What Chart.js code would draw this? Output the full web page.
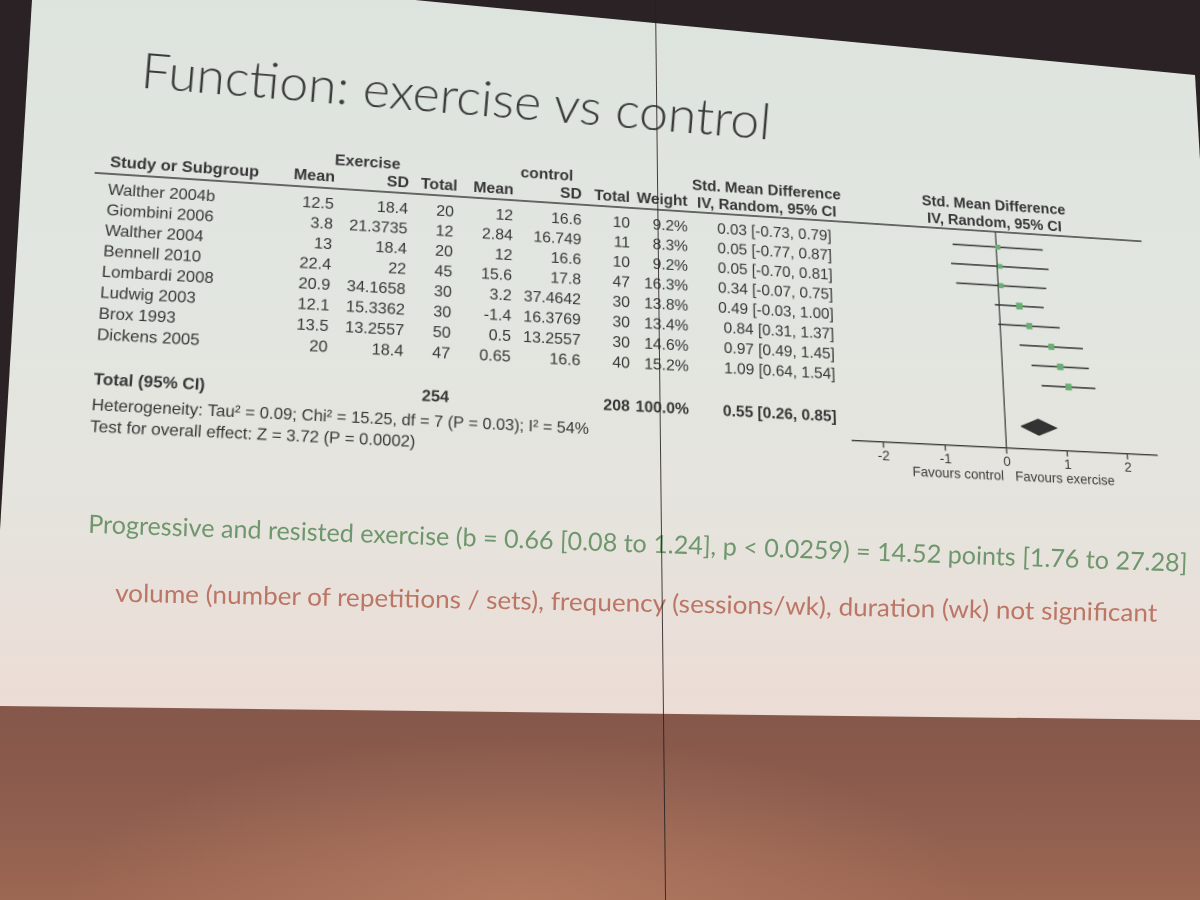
<!DOCTYPE html>
<html>
<head>
<meta charset="utf-8">
<script src="https://cdn.jsdelivr.net/npm/chart.js@4.4.1/dist/chart.umd.min.js"></script>
<style>
  html, body { margin: 0; padding: 0; }
  body {
    width: 1200px; height: 900px; overflow: hidden; position: relative;
    background:
      radial-gradient(ellipse 460px 170px at 520px 905px, rgba(196,136,108,0.55), rgba(196,136,108,0)),
      linear-gradient(180deg, #2a2224 0px, #2a2224 698px, #84574a 700px, #8c5c4d 790px, #9c6753 900px);
  }
  #slide {
    position: absolute; left: 0; top: 0; width: 1200px; height: 900px;
    clip-path: polygon(32px 0, 415px 0, 1195px 75px, 1200px 160px, 1200px 720px, 0 706px, 0 530px);
    background: linear-gradient(180deg, #dde3dd 0px, #e2e6e0 300px, #e6e3dd 520px, #ecdcd5 720px);
  }
  #figure { position: absolute; left: 0; top: 0; width: 1200px; height: 520px; transform-origin: 0 0; }
  #figure canvas { width: 1200px; height: 520px; }
  .line { position: absolute; white-space: nowrap; line-height: 1; transform-origin: 0 0; font-family: Lato, "Open Sans", sans-serif; }
  #title { font-weight: 300; color: #3b3b3b; }
  #note1 { font-weight: 400; color: #6f976d; }
  #note2 { font-weight: 400; color: #bb7666; }
  #seam { position: absolute; left: 655px; top: 0; width: 1.3px; height: 910px; background: rgba(38,32,32,0.85); transform-origin: 0 0; transform: rotate(-0.64deg); }
</style>
</head>
<body>
<div id="slide"></div>
<div id="figure"><canvas id="forest" width="1200" height="520"></canvas></div>
<div id="title" class="line">Function: exercise vs control</div>
<div id="note1" class="line">Progressive and resisted exercise (b = 0.66 [0.08 to 1.24], p &lt; 0.0259) = 14.52 points [1.76 to 27.28]</div>
<div id="note2" class="line">volume (number of repetitions / sets), frequency (sessions/wk), duration (wk) not significant</div>
<div id="seam"></div>
<script>
// study data
const studies = ['Walther 2004b', 'Giombini 2006', 'Walther 2004', 'Bennell 2010', 'Lombardi 2008', 'Ludwig 2003', 'Brox 1993', 'Dickens 2005'];
const exMean = [12.5, 3.8, 13, 22.4, 20.9, 12.1, 13.5, 20];
const exSD = [18.4, 21.3735, 18.4, 22, 34.1658, 15.3362, 13.2557, 18.4];
const exTotal = [20, 12, 20, 45, 30, 30, 50, 47];
const ctMean = [12, 2.84, 12, 15.6, 3.2, -1.4, 0.5, 0.65];
const ctSD = [16.6, 16.749, 16.6, 17.8, 37.4642, 16.3769, 13.2557, 16.6];
const ctTotal = [10, 11, 10, 47, 30, 30, 30, 40];
const weight = [9.2, 8.3, 9.2, 16.3, 13.8, 13.4, 14.6, 15.2];
const smd = [0.03, 0.05, 0.05, 0.34, 0.49, 0.84, 0.97, 1.09];
const ciLow = [-0.73, -0.77, -0.70, -0.07, -0.03, 0.31, 0.49, 0.64];
const ciHigh = [0.79, 0.87, 0.81, 0.75, 1.00, 1.37, 1.45, 1.54];
const pooled = [0.55, 0.26, 0.85];
const tickValues = [-2, -1, 0, 1, 2];
const heterogeneityText = 'Heterogeneity: Tau\u00B2 = 0.09; Chi\u00B2 = 15.25, df = 7 (P = 0.03); I\u00B2 = 54%';
const overallText = 'Test for overall effect: Z = 3.72 (P = 0.0002)';

// row positions in y-scale units (0 = header rule)
const ROW0 = 0.8;
const rowOf = i => ROW0 + i;
const TOTAL_ROW = rowOf(studies.length - 1) + 2.1;
const AXIS_ROW = TOTAL_ROW + 1.1;

// column anchors on the flat figure
const COL = { name: 100, exMean: 320, exSD: 394, exTotal: 440, ctMean: 500, ctSD: 570, ctTotal: 620, weight: 680, ci: 832, ciMid: 764 };

const sum = arr => arr.reduce((a, b) => a + b, 0);
const fmtCI = (m, lo, hi) => `${m.toFixed(2)} [${lo.toFixed(2)}, ${hi.toFixed(2)}]`;

const tablePlugin = {
    id: 'forestTable',
    afterDraw(chart) {
        const { ctx, chartArea, scales: { x, y } } = chart;
        const yy = v => y.getPixelForValue(v);
        const normal = '16px "Liberation Sans", Arial, sans-serif';
        const bold = 'bold 16px "Liberation Sans", Arial, sans-serif';
        const put = (text, px, v, align, font) => {
            ctx.font = font || normal;
            ctx.textAlign = align;
            ctx.fillText(text, px, yy(v));
        };
        ctx.save();
        ctx.fillStyle = '#363636';
        ctx.textBaseline = 'middle';

        // header rule across the whole figure
        ctx.strokeStyle = '#3a3a3a';
        ctx.lineWidth = 1.4;
        ctx.beginPath();
        ctx.moveTo(COL.name - 14, yy(0));
        ctx.lineTo(chartArea.right, yy(0));
        ctx.stroke();

        // headers
        put('Exercise', 352, -1.4, 'center', bold);
        put('control', 534, -1.4, 'center', bold);
        put('Std. Mean Difference', COL.ciMid, -1.35, 'center', bold);
        put('Study or Subgroup', COL.name, -0.55, 'left', bold);
        put('Mean', COL.exMean, -0.55, 'right', bold);
        put('SD', COL.exSD, -0.5, 'right', bold);
        put('Total', COL.exTotal + 3, -0.5, 'right', bold);
        put('Mean', COL.ctMean, -0.5, 'right', bold);
        put('SD', COL.ctSD, -0.5, 'right', bold);
        put('Total', COL.ctTotal, -0.5, 'right', bold);
        put('Weight', COL.weight, -0.5, 'right', bold);
        put('IV, Random, 95% CI', COL.ciMid, -0.45, 'center', bold);
        const midX = (chartArea.left + chartArea.right) / 2;
        put('Std. Mean Difference', midX, -1.35, 'center', bold);
        put('IV, Random, 95% CI', midX, -0.45, 'center', bold);

        // study rows
        studies.forEach((s, i) => {
            const r = rowOf(i);
            put(s, COL.name, r, 'left');
            put(String(exMean[i]), COL.exMean, r, 'right');
            put(String(exSD[i]), COL.exSD, r, 'right');
            put(String(exTotal[i]), COL.exTotal, r, 'right');
            put(String(ctMean[i]), COL.ctMean, r, 'right');
            put(String(ctSD[i]), COL.ctSD, r, 'right');
            put(String(ctTotal[i]), COL.ctTotal, r, 'right');
            put(weight[i].toFixed(1) + '%', COL.weight, r, 'right');
            put(fmtCI(smd[i], ciLow[i], ciHigh[i]), COL.ci, r, 'right');
        });

        // total row and footnotes
        put('Total (95% CI)', COL.name, TOTAL_ROW, 'left', bold);
        put(String(sum(exTotal)), COL.exTotal, TOTAL_ROW, 'right', bold);
        put(String(sum(ctTotal)), COL.ctTotal, TOTAL_ROW, 'right', bold);
        put(sum(weight).toFixed(1) + '%', COL.weight, TOTAL_ROW, 'right', bold);
        put(fmtCI(pooled[0], pooled[1], pooled[2]), COL.ci, TOTAL_ROW, 'right', bold);
        put(heterogeneityText, COL.name, TOTAL_ROW + 1.2, 'left');
        put(overallText, COL.name, TOTAL_ROW + 2.2, 'left');

        // favours labels under the axis
        const x0 = x.getPixelForValue(0);
        const fy = yy(AXIS_ROW) + 29;
        ctx.font = '14px "Liberation Sans", Arial, sans-serif';
        ctx.fillStyle = '#3c3c3c';
        ctx.textAlign = 'right';
        ctx.fillText('Favours control', x0 - 4, fy);
        ctx.textAlign = 'left';
        ctx.fillText('Favours exercise', x0 + 8, fy);
        ctx.restore();
    }
};

const ciSets = studies.map((s, i) => ({
    type: 'line',
    label: s,
    data: [{ x: ciLow[i], y: rowOf(i) }, { x: ciHigh[i], y: rowOf(i) }],
    borderColor: '#3c3c3c',
    borderWidth: 1.6,
    pointRadius: 0,
    fill: false,
    order: 2
}));

const squareSet = {
    type: 'scatter',
    label: 'SMD',
    data: smd.map((v, i) => ({ x: v, y: rowOf(i) })),
    pointStyle: 'rect',
    pointRadius: weight.map(w => 1.25 * Math.sqrt(w)),
    backgroundColor: '#6aae74',
    borderWidth: 0,
    order: 0
};

const diamondSet = {
    type: 'line',
    label: 'Total',
    data: [
        { x: pooled[1], y: TOTAL_ROW },
        { x: pooled[0], y: TOTAL_ROW - 0.4 },
        { x: pooled[2], y: TOTAL_ROW },
        { x: pooled[0], y: TOTAL_ROW + 0.4 },
        { x: pooled[1], y: TOTAL_ROW }
    ],
    borderColor: '#333333',
    borderWidth: 1,
    backgroundColor: '#333333',
    fill: 'shape',
    pointRadius: 0,
    tension: 0,
    order: 1
};

const chart = new Chart(document.getElementById('forest'), {
    type: 'scatter',
    data: { datasets: [...ciSets, diamondSet, squareSet] },
    options: {
        responsive: false,
        animation: false,
        devicePixelRatio: 2,
        layout: { padding: { left: 847.5, right: 27.5, top: 170, bottom: 84.5 } },
        plugins: { legend: { display: false }, tooltip: { enabled: false } },
        scales: {
            x: {
                type: 'linear',
                min: -2.5,
                max: 2.5,
                afterBuildTicks: axis => { axis.ticks = tickValues.map(v => ({ value: v })); },
                afterFit: axis => { axis.height = 40; },
                grid: {
                    drawOnChartArea: true,
                    color: c => (c.tick && c.tick.value === 0) ? '#3a3a3a' : 'rgba(0,0,0,0)',
                    lineWidth: 1.3,
                    tickLength: 6,
                    tickColor: '#3a3a3a'
                },
                border: { display: true, color: '#3a3a3a', width: 1.4 },
                ticks: {
                    autoSkip: false,
                    maxRotation: 0,
                    padding: 0,
                    color: '#3c3c3c',
                    font: { family: '"Liberation Sans", Arial, sans-serif', size: 14 }
                }
            },
            y: { type: 'linear', reverse: true, min: 0, max: AXIS_ROW, display: false }
        }
    },
    plugins: [tablePlugin]
});

// perspective of the photographed screen: flat figure -> photo
function homography(src, dst) {
    const A = [], b = [];
    for (let i = 0; i < 4; i++) {
        const [x, y] = src[i], [X, Y] = dst[i];
        A.push([x, y, 1, 0, 0, 0, -x * X, -y * X]); b.push(X);
        A.push([0, 0, 0, x, y, 1, -x * Y, -y * Y]); b.push(Y);
    }
    for (let c = 0; c < 8; c++) {
        let p = c;
        for (let r = c + 1; r < 8; r++) if (Math.abs(A[r][c]) > Math.abs(A[p][c])) p = r;
        [A[c], A[p]] = [A[p], A[c]]; [b[c], b[p]] = [b[p], b[c]];
        for (let r = 0; r < 8; r++) {
            if (r === c) continue;
            const f = A[r][c] / A[c][c];
            for (let k = c; k < 8; k++) A[r][k] -= f * A[c][k];
            b[r] -= f * b[c];
        }
    }
    return b.map((v, i) => v / A[i][i]);
}
const yA = chart.scales.y.getPixelForValue(rowOf(0));
const yB = chart.scales.y.getPixelForValue(rowOf(studies.length - 1));
const xZ = chart.scales.x.getPixelForValue(0);
const h = homography(
    [[COL.name, yA], [COL.name, yB], [xZ, yA], [xZ, yB]],
    [[108, 190], [97, 335], [996, 247], [1003, 383.5]]
);
document.getElementById('figure').style.transform =
    `matrix3d(${h[0]},${h[3]},0,${h[6]},${h[1]},${h[4]},0,${h[7]},0,0,1,0,${h[2]},${h[5]},0,1)`;

// slide text lines, fitted between their photographed end points
function placeLine(id, x0, y0, x1, y1, cap) {
    const el = document.getElementById(id);
    el.style.fontSize = (cap / 0.7165) + 'px';
    const len = Math.hypot(x1 - x0, y1 - y0);
    const ang = Math.atan2(y1 - y0, x1 - x0) * 180 / Math.PI;
    const sx = len / el.offsetWidth;
    el.style.left = x0 + 'px';
    el.style.top = y0 + 'px';
    el.style.transform = `rotate(${ang}deg) scaleX(${sx}) translateY(-0.887em)`;
}
function layoutText() {
    placeLine('title', 140, 88, 770, 140, 35);
    placeLine('note1', 88, 533, 1187, 572, 18);
    placeLine('note2', 115, 602, 1157, 622, 18);
}
layoutText();
document.fonts.ready.then(layoutText);
</script>
</body>
</html>
